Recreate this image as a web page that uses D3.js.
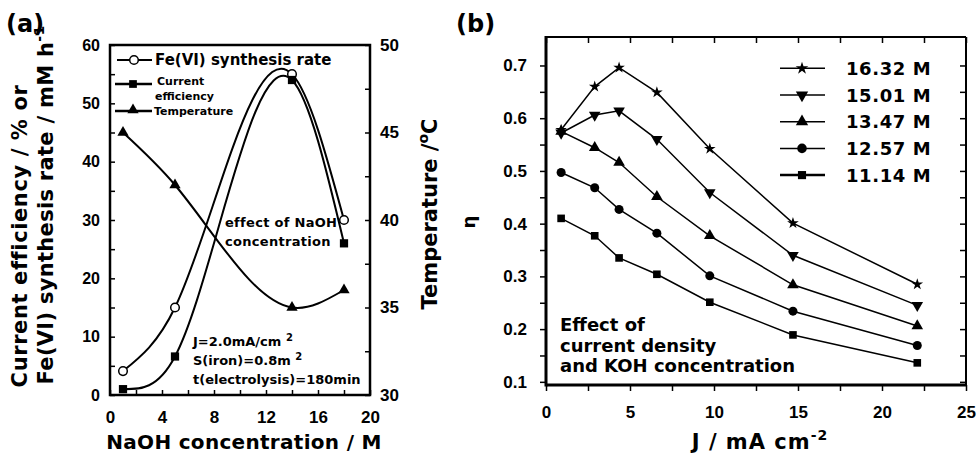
<!DOCTYPE html>
<html lang="en">
<head>
<meta charset="UTF-8">
<title>Fe(VI) synthesis: NaOH and KOH effects</title>
<script src="https://cdnjs.cloudflare.com/ajax/libs/d3/7.8.5/d3.min.js"></script>
<style>
  body { margin: 0; background: #fff; }
  svg { display: block; font-family: "DejaVu Sans", sans-serif; font-weight: bold; }
  text { fill: #000; }
  .tick line { stroke: #000; stroke-width: 1.5; }
</style>
</head>
<body>
<svg id="chart" width="979" height="455"></svg>
<script>
// (a) effect of NaOH concentration
const naohConc = [1, 5, 14, 18];
const synthesisRate = [4.1, 15, 55, 30];
const currentEff = [1, 6.6, 54, 26];
const temperature = [45, 42, 35, 36];

// (b) effect of current density and KOH concentration
const currentDensity = [0.9, 2.9, 4.35, 6.6, 9.75, 14.7, 22.1];
const kohLabels = ["16.32 M", "15.01 M", "13.47 M", "12.57 M", "11.14 M"];
const eta1632 = [0.578, 0.660, 0.696, 0.649, 0.542, 0.401, 0.285];
const eta1501 = [0.572, 0.606, 0.614, 0.560, 0.459, 0.340, 0.245];
const eta1347 = [0.575, 0.544, 0.516, 0.451, 0.377, 0.284, 0.206];
const eta1257 = [0.497, 0.468, 0.427, 0.382, 0.301, 0.234, 0.169];
const eta1114 = [0.410, 0.377, 0.335, 0.304, 0.251, 0.189, 0.136];

const svg = d3.select("#chart");

function sym(type, size) {
  return d3.symbol().type(type).size(size)();
}

// natural cubic spline y(x), drawn as bezier pieces (like curveMonotoneX but natural)
function curveNaturalX(context) {
  return {
    areaStart() {}, areaEnd() {},
    lineStart() { this._x = []; this._y = []; },
    point(x, y) { this._x.push(+x); this._y.push(+y); },
    lineEnd() {
      const x = this._x, y = this._y, n = x.length;
      if (!n) return;
      context.moveTo(x[0], y[0]);
      if (n < 3) { for (let i = 1; i < n; i++) context.lineTo(x[i], y[i]); return; }
      const h = [], M = new Array(n).fill(0);
      for (let i = 0; i < n - 1; i++) h.push(x[i + 1] - x[i]);
      const a = [], b = [], c = [], r = [];
      for (let i = 1; i < n - 1; i++) {
        a.push(h[i - 1]); b.push(2 * (h[i - 1] + h[i])); c.push(h[i]);
        r.push(6 * ((y[i + 1] - y[i]) / h[i] - (y[i] - y[i - 1]) / h[i - 1]));
      }
      const m = b.length;
      for (let i = 1; i < m; i++) {
        const w = a[i] / b[i - 1];
        b[i] -= w * c[i - 1]; r[i] -= w * r[i - 1];
      }
      const sol = new Array(m);
      sol[m - 1] = r[m - 1] / b[m - 1];
      for (let i = m - 2; i >= 0; i--) sol[i] = (r[i] - c[i] * sol[i + 1]) / b[i];
      for (let i = 0; i < m; i++) M[i + 1] = sol[i];
      const s = new Array(n);
      for (let i = 0; i < n - 1; i++) s[i] = (y[i + 1] - y[i]) / h[i] - h[i] * (2 * M[i] + M[i + 1]) / 6;
      s[n - 1] = (y[n - 1] - y[n - 2]) / h[n - 2] + h[n - 2] * (2 * M[n - 1] + M[n - 2]) / 6;
      for (let i = 0; i < n - 1; i++) {
        const d = h[i] / 3;
        context.bezierCurveTo(x[i] + d, y[i] + d * s[i], x[i + 1] - d, y[i + 1] - d * s[i + 1], x[i + 1], y[i + 1]);
      }
    }
  };
}

// ---------- panel (a) ----------
const ax = { left: 110, right: 370, top: 45, bottom: 395 };
const xA = d3.scaleLinear().domain([0, 20]).range([ax.left, ax.right]);
const yL = d3.scaleLinear().domain([0, 60]).range([ax.bottom, ax.top]);
const yR = d3.scaleLinear().domain([30, 50]).range([ax.bottom, ax.top]);

const gA = svg.append("g");

gA.append("g")
  .attr("transform", `translate(${ax.left},0)`)
  .call(d3.axisLeft(yL).tickValues(d3.range(0, 61, 5)).tickSize(-5).tickPadding(10)
    .tickFormat(d => d % 10 === 0 ? d : ""))
  .call(g => g.selectAll("text").style("font-size", "16px"));

gA.append("g")
  .attr("transform", `translate(${ax.right},0)`)
  .call(d3.axisRight(yR).tickValues(d3.range(30, 50.1, 2.5)).tickSize(-5).tickPadding(10)
    .tickFormat(d => d % 5 === 0 ? d : ""))
  .call(g => g.selectAll("text").style("font-size", "17px"));

gA.append("g")
  .attr("transform", `translate(0,${ax.bottom})`)
  .call(d3.axisBottom(xA).tickValues(d3.range(0, 21, 2)).tickSize(-5).tickPadding(16)
    .tickFormat(d => d % 4 === 0 ? d : ""))
  .call(g => g.selectAll("text").style("font-size", "17px"));

gA.selectAll(".domain").remove();
gA.selectAll("text").attr("font-family", null).style("font-weight", "bold");

gA.append("rect")
  .attr("x", ax.left).attr("y", ax.top)
  .attr("width", ax.right - ax.left).attr("height", ax.bottom - ax.top)
  .attr("fill", "none").attr("stroke", "#000").attr("stroke-width", 2.5);

const curve = (ys, yScale) => d3.line()
  .x((d, i) => xA(naohConc[i]))
  .y(d => yScale(d))
  .curve(curveNaturalX)(ys);

gA.append("path").attr("d", curve(synthesisRate, yL))
  .attr("fill", "none").attr("stroke", "#000").attr("stroke-width", 2);
gA.append("path").attr("d", curve(currentEff, yL))
  .attr("fill", "none").attr("stroke", "#000").attr("stroke-width", 2);
gA.append("path").attr("d", curve(temperature, yR))
  .attr("fill", "none").attr("stroke", "#000").attr("stroke-width", 2);

gA.selectAll(".rate").data(synthesisRate).join("circle")
  .attr("cx", (d, i) => xA(naohConc[i])).attr("cy", d => yL(d)).attr("r", 4.3)
  .attr("fill", "#fff").attr("stroke", "#000").attr("stroke-width", 1.5);
gA.selectAll(".eff").data(currentEff).join("path")
  .attr("transform", (d, i) => `translate(${xA(naohConc[i])},${yL(d)})`)
  .attr("d", sym(d3.symbolSquare, 68));
gA.selectAll(".temp").data(temperature).join("path")
  .attr("transform", (d, i) => `translate(${xA(naohConc[i])},${yR(d)})`)
  .attr("d", sym(d3.symbolTriangle, 55));

// legend (a)
gA.append("line").attr("x1", 117).attr("x2", 152).attr("y1", 60).attr("y2", 60)
  .attr("stroke", "#000").attr("stroke-width", 2);
gA.append("circle").attr("cx", 134).attr("cy", 60).attr("r", 4.3)
  .attr("fill", "#fff").attr("stroke", "#000").attr("stroke-width", 1.5);
gA.append("text").attr("x", 155).attr("y", 65).style("font-size", "15px").text("Fe(VI) synthesis rate");

gA.append("line").attr("x1", 115).attr("x2", 152).attr("y1", 84).attr("y2", 84)
  .attr("stroke", "#000").attr("stroke-width", 2.5);
gA.append("path").attr("transform", "translate(133,84)").attr("d", sym(d3.symbolSquare, 60));
gA.append("text").attr("x", 157).attr("y", 85).style("font-size", "11px").text("Current");
gA.append("text").attr("x", 155).attr("y", 100).style("font-size", "11px").text("efficiency");

gA.append("line").attr("x1", 115).attr("x2", 152).attr("y1", 111).attr("y2", 111)
  .attr("stroke", "#000").attr("stroke-width", 2.5);
gA.append("path").attr("transform", "translate(133,110)").attr("d", sym(d3.symbolTriangle, 55));
gA.append("text").attr("x", 154).attr("y", 115).style("font-size", "11px").text("Temperature");

// annotations (a)
gA.append("text").attr("x", 225).attr("y", 227).style("font-size", "13px")
  .style("letter-spacing", "0.3px").text("effect of NaOH");
gA.append("text").attr("x", 225).attr("y", 246).style("font-size", "13px")
  .style("letter-spacing", "0.3px").text("concentration");

const cond = gA.append("g").style("font-size", "13px");
const c1 = cond.append("text").attr("x", 193).attr("y", 346).text("J=2.0mA/cm ");
c1.append("tspan").attr("dy", -5).style("font-size", "10px").text("2");
const c2 = cond.append("text").attr("x", 193).attr("y", 365).text("S(iron)=0.8m ");
c2.append("tspan").attr("dy", -5).style("font-size", "10px").text("2");
cond.append("text").attr("x", 193).attr("y", 384).text("t(electrolysis)=180min");

// axis titles (a)
gA.append("text").attr("x", 244).attr("y", 449).attr("text-anchor", "middle")
  .style("font-size", "20px").style("letter-spacing", "0.3px").text("NaOH concentration / M");

gA.append("text").attr("transform", "translate(27,236) rotate(-90)")
  .attr("text-anchor", "middle").style("font-size", "21px").style("letter-spacing", "0.6px")
  .text("Current efficiency / % or");
const t2 = gA.append("text").attr("transform", "translate(53,205) rotate(-90)")
  .attr("text-anchor", "middle").style("font-size", "21px").style("letter-spacing", "0.3px")
  .text("Fe(VI) synthesis rate / mM h");
t2.append("tspan").attr("dy", -9).style("font-size", "14px").text("-1");

const tr = gA.append("text").attr("transform", "translate(437,214) rotate(-90)")
  .attr("text-anchor", "middle").style("font-size", "21px").text("Temperature /");
tr.append("tspan").attr("dy", -9).style("font-size", "14px").text("o");
tr.append("tspan").attr("dy", 9).text("C");

svg.append("text").attr("x", 6).attr("y", 32).style("font-size", "24px").text("(a)");

// ---------- panel (b) ----------
const bx = { left: 546, right: 966, top: 37, bottom: 385 };
const xB = d3.scaleLinear().domain([0, 25]).range([bx.left, bx.right]);
const yB = d3.scaleLinear().domain([0.094, 0.754]).range([bx.bottom, bx.top]);
const etaTicks = d3.range(2, 15).map(i => i * 0.05);
const jTicks = d3.range(0, 11).map(i => i * 2.5);

const gB = svg.append("g");

gB.append("g")
  .attr("transform", `translate(${bx.left},0)`)
  .call(d3.axisLeft(yB).tickValues(etaTicks).tickSize(6).tickPadding(13)
    .tickFormat((d, i) => i % 2 === 0 ? d3.format(".1f")(d) : ""))
  .call(g => g.selectAll("text").style("font-size", "17px"));

gB.append("g")
  .attr("transform", `translate(${bx.right},0)`)
  .call(d3.axisRight(yB).tickValues(etaTicks).tickSize(-6).tickFormat(""));

gB.append("g")
  .attr("transform", `translate(0,${bx.bottom})`)
  .call(d3.axisBottom(xB).tickValues(jTicks).tickSize(6).tickPadding(15)
    .tickFormat((d, i) => i % 2 === 0 ? d : ""))
  .call(g => g.selectAll("text").style("font-size", "17px"));

gB.append("g")
  .attr("transform", `translate(0,${bx.top})`)
  .call(d3.axisTop(xB).tickValues(jTicks).tickSize(-6).tickFormat(""));

gB.selectAll(".domain").remove();
gB.selectAll("text").attr("font-family", null).style("font-weight", "bold");

gB.append("line").attr("x1", bx.left).attr("x2", bx.right).attr("y1", bx.top).attr("y2", bx.top)
  .attr("stroke", "#000").attr("stroke-width", 2);
gB.append("line").attr("x1", bx.right).attr("x2", bx.right).attr("y1", bx.top).attr("y2", bx.bottom)
  .attr("stroke", "#000").attr("stroke-width", 2);
gB.append("line").attr("x1", bx.left).attr("x2", bx.left).attr("y1", bx.top - 1).attr("y2", bx.bottom + 1.5)
  .attr("stroke", "#000").attr("stroke-width", 3);
gB.append("line").attr("x1", bx.left).attr("x2", bx.right + 1).attr("y1", bx.bottom).attr("y2", bx.bottom)
  .attr("stroke", "#000").attr("stroke-width", 3);

const series = [
  { label: kohLabels[0], values: eta1632, shape: d3.symbolStar, size: 42, rot: 0 },
  { label: kohLabels[1], values: eta1501, shape: d3.symbolTriangle, size: 58, rot: 180 },
  { label: kohLabels[2], values: eta1347, shape: d3.symbolTriangle, size: 58, rot: 0 },
  { label: kohLabels[3], values: eta1257, shape: d3.symbolCircle, size: 64, rot: 0 },
  { label: kohLabels[4], values: eta1114, shape: d3.symbolSquare, size: 58, rot: 0 }
];

const lineB = d3.line().x((d, i) => xB(currentDensity[i])).y(d => yB(d));

series.forEach((s, k) => {
  gB.append("path").attr("d", lineB(s.values))
    .attr("fill", "none").attr("stroke", "#000").attr("stroke-width", 1.5);
  gB.selectAll(null).data(s.values).join("path")
    .attr("transform", (d, i) => `translate(${xB(currentDensity[i])},${yB(d)}) rotate(${s.rot})`)
    .attr("d", sym(s.shape, s.size));

  const ly = 68.3 + k * 26.7;
  gB.append("line").attr("x1", 780).attr("x2", 825).attr("y1", ly).attr("y2", ly)
    .attr("stroke", "#000").attr("stroke-width", k === 4 ? 2.5 : 1.5);
  gB.append("path").attr("transform", `translate(802,${ly}) rotate(${s.rot})`)
    .attr("d", sym(s.shape, s.size + 8));
  gB.append("text").attr("x", 846).attr("y", ly + 6.5)
    .style("font-size", "18px").style("letter-spacing", "0.6px").text(s.label);
});

// annotation (b)
const noteB = gB.append("g").style("font-size", "18px");
noteB.append("text").attr("x", 560).attr("y", 331).text("Effect of");
noteB.append("text").attr("x", 560).attr("y", 352).text("current density");
noteB.append("text").attr("x", 560).attr("y", 372).text("and KOH concentration");

// axis titles (b)
const jt = gB.append("text").attr("x", 760).attr("y", 449).attr("text-anchor", "middle")
  .style("font-size", "21px").style("letter-spacing", "1px").text("J / mA cm");
jt.append("tspan").attr("dy", -9).style("font-size", "14px").text("-2");

gB.append("text").attr("transform", "translate(475,222) rotate(-90)")
  .attr("text-anchor", "middle").style("font-size", "18px").text("η");

svg.append("text").attr("x", 456).attr("y", 32).style("font-size", "24px").text("(b)");
</script>
</body>
</html>
